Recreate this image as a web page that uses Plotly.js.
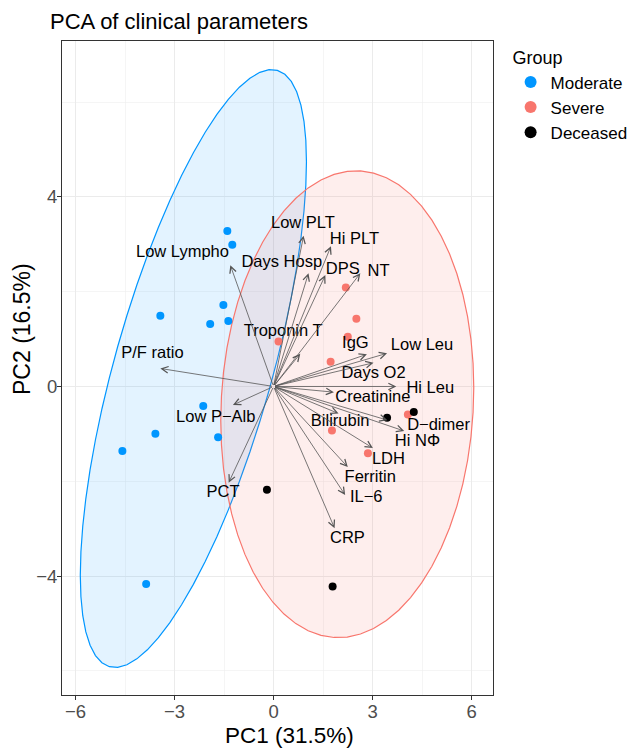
<!DOCTYPE html>
<html><head><meta charset="utf-8">
<script src="https://cdn.plot.ly/plotly-3.0.1.min.js"></script>
<style>html,body{margin:0;padding:0;background:#fff}#chart{width:629px;height:749px}</style>
</head><body><div id="chart"></div>
<script>
const chartTitle = "PCA of clinical parameters";
const xAxisTitle = "PC1 (31.5%)";
const yAxisTitle = "PC2 (16.5%)";
const legendTitle = "Group";
const groupNames = ["Moderate", "Severe", "Deceased"];

const moderatePC1 = [-1.40, -1.25, -3.43, -1.52, -1.92, -1.37, -2.13, -3.58, -1.68, -4.58, -3.86];
const moderatePC2 = [3.28, 2.99, 1.49, 1.72, 1.32, 1.38, -0.41, -1.00, -1.07, -1.36, -4.17];
const severePC1 = [2.19, 2.51, 2.25, 1.73, 0.15, 4.07, 1.77, 2.86];
const severePC2 = [2.09, 1.43, 1.05, 0.52, 0.95, -0.59, -0.93, -1.41];
const deceasedPC1 = [4.25, 3.44, -0.20, 1.79];
const deceasedPC2 = [-0.54, -0.66, -2.18, -4.22];

const variableNames = ["Low Lympho", "P/F ratio", "Low PLT", "Hi PLT", "Days Hosp", "DPS", "NT", "Troponin T",
  "IgG", "Low Leu", "Days O2", "Hi Leu", "Creatinine", "D\u2212dimer", "Hi N\u03A6", "Bilirubin", "LDH",
  "Ferritin", "IL\u22126", "CRP", "Low P\u2212Alb", "PCT"];
const loadingPC1 = [-1.31, -3.43, 0.91, 1.74, 1.06, 1.57, 2.63, 0.81, 2.83, 3.44, 3.03, 3.72, 1.83, 3.45, 3.96, 1.97, 3.01, 2.25, 2.17, 1.85, -1.23, -1.36];
const loadingPC2 = [2.56, 0.38, 3.18, 2.96, 2.39, 2.35, 2.39, 0.69, 0.68, 0.70, 0.50, 0.00, -0.12, -0.71, -0.94, -0.57, -1.30, -1.70, -2.29, -2.99, -0.39, -2.03];
const labelPC1 = [-2.76, -3.67, 0.89, 2.45, 0.25, 2.10, 3.18, 0.29, 2.48, 4.50, 3.03, 4.75, 3.01, 5.00, 4.36, 2.02, 3.48, 2.93, 2.81, 2.24, -1.75, -1.53];
const labelPC2 = [2.81, 0.68, 3.43, 3.09, 2.61, 2.47, 2.42, 1.16, 0.89, 0.86, 0.26, -0.04, -0.25, -0.83, -1.16, -0.74, -1.55, -1.92, -2.34, -3.22, -0.67, -2.25];

const ellipseLevel = 0.95;
const xTicks = [-6, -3, 0, 3, 6];
const xMinorTicks = [-4.5, -1.5, 1.5, 4.5];
const yTicks = [-4, 0, 4];
const yMinorTicks = [-6, -2, 2, 6];

const FONT = "Liberation Sans, Arial, Helvetica, sans-serif";
const colModerate = "#0096FF";
const colSevere = "#F8766D";
const colDeceased = "#000000";

function dataEllipse(xs, ys, level, segs) {
  const n = xs.length;
  const mx = xs.reduce((a, b) => a + b, 0) / n;
  const my = ys.reduce((a, b) => a + b, 0) / n;
  let sxx = 0, syy = 0, sxy = 0;
  for (let i = 0; i < n; i++) {
    sxx += (xs[i] - mx) ** 2; syy += (ys[i] - my) ** 2; sxy += (xs[i] - mx) * (ys[i] - my);
  }
  sxx /= (n - 1); syy /= (n - 1); sxy /= (n - 1);
  const dfd = n - 1;
  const q = dfd / 2 * (Math.pow(1 - level, -2 / dfd) - 1); // qf(level, 2, dfd)
  const r = Math.sqrt(2 * q);
  const a = Math.sqrt(sxx), b = sxy / a, c = Math.sqrt(syy - b * b);
  const ex = [], ey = [];
  for (let i = 0; i <= segs; i++) {
    const t = 2 * Math.PI * i / segs;
    ex.push(mx + r * Math.cos(t) * a);
    ey.push(my + r * (Math.cos(t) * b + Math.sin(t) * c));
  }
  return [ex, ey];
}

const [e1x, e1y] = dataEllipse(moderatePC1, moderatePC2, ellipseLevel, 60);
const [e2x, e2y] = dataEllipse(severePC1.concat(deceasedPC1), severePC2.concat(deceasedPC2), ellipseLevel, 60);

const traces = [
  {x: e1x, y: e1y, type: "scatter", mode: "lines", fill: "toself", fillcolor: "rgba(0,150,255,0.11)",
   line: {color: colModerate, width: 1.2}, showlegend: false, hoverinfo: "skip"},
  {x: e2x, y: e2y, type: "scatter", mode: "lines", fill: "toself", fillcolor: "rgba(248,118,109,0.12)",
   line: {color: colSevere, width: 1.2}, showlegend: false, hoverinfo: "skip"},
  {x: moderatePC1, y: moderatePC2, type: "scatter", mode: "markers", name: groupNames[0],
   marker: {color: colModerate, size: 8}},
  {x: severePC1, y: severePC2, type: "scatter", mode: "markers", name: groupNames[1],
   marker: {color: colSevere, size: 8}},
  {x: deceasedPC1, y: deceasedPC2, type: "scatter", mode: "markers", name: groupNames[2],
   marker: {color: colDeceased, size: 8}},
  {x: labelPC1, y: labelPC2, text: variableNames, type: "scatter", mode: "text",
   textposition: "middle center", textfont: {family: FONT, size: 16.5, color: "#000"},
   showlegend: false, hoverinfo: "skip", cliponaxis: false}
];

const annotations = variableNames.map((v, i) => ({
  x: loadingPC1[i], y: loadingPC2[i], ax: 0, ay: 0, xref: "x", yref: "y", axref: "x", ayref: "y",
  text: "", showarrow: true, arrowhead: 5, arrowsize: 1.6, arrowwidth: 0.8, arrowcolor: "#555555", standoff: 0
}));

annotations.push({text: xAxisTitle, xref: "paper", yref: "paper", x: (289 - 62) / 431, y: (695 - 735) / 654,
  xanchor: "center", yanchor: "middle", showarrow: false, font: {family: FONT, size: 22.5, color: "#000"}});
annotations.push({text: yAxisTitle, xref: "paper", yref: "paper", x: (22 - 62) / 431, y: (695 - 329) / 654,
  xanchor: "center", yanchor: "middle", showarrow: false, textangle: -90, font: {family: FONT, size: 23, color: "#000"}});

const axisCommon = {
  showline: true, mirror: true, linecolor: "#333333", linewidth: 1,
  zeroline: false, showgrid: true, gridcolor: "#EBEBEB", gridwidth: 1,
  ticks: "outside", ticklen: 4, tickwidth: 1, tickcolor: "#333333",
  tickfont: {family: FONT, size: 18.5, color: "#4D4D4D"}, tickmode: "array"
};

const layout = {
  width: 629, height: 749,
  margin: {l: 62, r: 136, t: 41, b: 54, autoexpand: false},
  paper_bgcolor: "#fff", plot_bgcolor: "#fff",
  font: {family: FONT},
  title: {text: chartTitle, font: {family: FONT, size: 22, color: "#000"},
    xref: "container", x: 50 / 629, xanchor: "left", yref: "container", y: 1 - 21 / 749, yanchor: "middle"},
  xaxis: Object.assign({}, axisCommon, {range: [-6.41, 6.65], tickvals: xTicks, ticklabelstandoff: -4,
    minor: {tickmode: "array", tickvals: xMinorTicks, showgrid: true, gridcolor: "#EFEFEF", gridwidth: 0.6, ticks: ""}}),
  yaxis: Object.assign({}, axisCommon, {range: [-6.51, 7.29], tickvals: yTicks, ticklabelstandoff: -4,
    minor: {tickmode: "array", tickvals: yMinorTicks, showgrid: true, gridcolor: "#EFEFEF", gridwidth: 0.6, ticks: ""}}),
  legend: {x: (510.6 - 62) / 431, xanchor: "left", y: 1.0, yanchor: "top",
    title: {text: legendTitle, font: {family: FONT, size: 18, color: "#000"}},
    font: {family: FONT, size: 17, color: "#000"}, bgcolor: "rgba(0,0,0,0)", itemsizing: "constant"},
  annotations: annotations,
  showlegend: true
};

Plotly.newPlot("chart", traces, layout, {displayModeBar: false, staticPlot: true});
</script>
</body></html>
